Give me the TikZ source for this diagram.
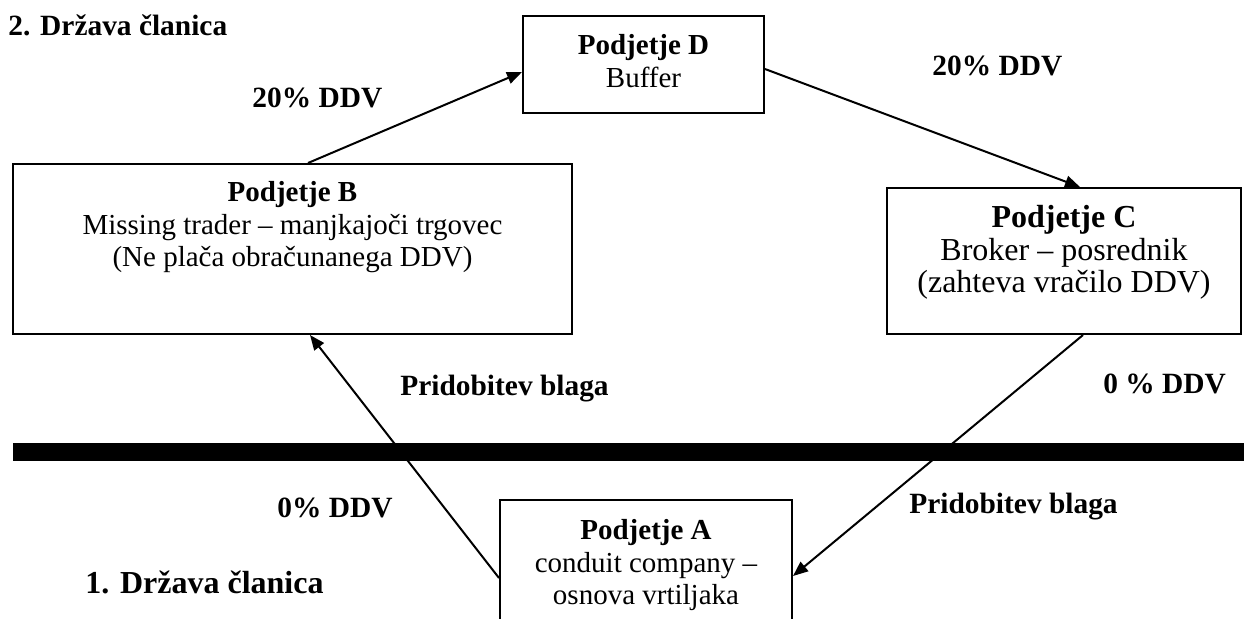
\documentclass[tikz,border=0pt]{standalone}
\usepackage{fontspec}
\setmainfont{Liberation Serif}
\usetikzlibrary{arrows.meta,positioning}

\begin{document}
\begin{tikzpicture}[x=0.5pt,y=-0.5pt,
    box/.style={draw,line width=1pt,inner sep=0pt},
    txt/.style={align=center,inner sep=0pt,font=\fontsize{14.5pt}{16.3pt}\selectfont},
    lbl/.style={inner sep=0pt,anchor=base west,font=\fontsize{14.7pt}{16pt}\selectfont\bfseries},
    arr/.style={line width=1pt,-{Triangle[length=7.5pt,width=6pt]}}]
  \clip (0,0) rectangle (1244,618);
  % companies
  \node[box,minimum width=120.5pt,minimum height=48.5pt] (d) at (643.5,64.5) {};
  \node[box,minimum width=279.5pt,minimum height=85pt] (b) at (292.5,249) {};
  \node[box,minimum width=177pt,minimum height=73pt] (c) at (1064,261) {};
  \node[box,minimum width=146pt,minimum height=70pt] (a) at (646,570) {};
  \node[txt,below=9.6pt of d.north] (dtxt) {\textbf{Podjetje D}\\Buffer};
  \node[txt,below=9.1pt of b.north] (btxt) {\textbf{Podjetje B}\\Missing trader – manjkajoči trgovec\\(Ne plača obračunanega DDV)};
  \node[txt,below=9.1pt of c.north,font=\fontsize{16pt}{16.2pt}\selectfont] (ctxt) {\textbf{Podjetje C}\\Broker – posrednik\\(zahteva vračilo DDV)};
  \node[txt,below=10.1pt of a.north] (atxt) {\textbf{Podjetje A}\\conduit company –\\osnova vrtiljaka};
  % border between the two states
  \fill (13,443) rectangle (1244,461);
  % labels
  \node[lbl] (clan2) at (8,35) {2. Država članica};
  \node[lbl,font=\fontsize{16pt}{17pt}\selectfont\bfseries] (clan1) at (85,593) {1. Država članica};
  \node[lbl] (ddvbd) at (252,107) {20\% DDV};
  \node[lbl] (ddvdc) at (932,75) {20\% DDV};
  \node[lbl] (blagab) at (400,395) {Pridobitev blaga};
  \node[lbl] (ddvca) at (1103,393) {0 \% DDV};
  \node[lbl] (ddvab) at (277,517) {0\% DDV};
  \node[lbl] (blagaa) at (909,513) {Pridobitev blaga};
  % flow of goods
  \draw[arr] ([xshift=7.75pt]b.north) -- ([yshift=-3.75pt]d.west);
  \draw[arr] ([yshift=-2.25pt]d.east) -- ([xshift=8pt]c.north);
  \draw[arr] ([xshift=9.5pt]c.south) -- ([yshift=-3pt]a.east);
  \draw[arr] ([yshift=-4pt]a.west) -- ([xshift=8.75pt]b.south);
\end{tikzpicture}
\end{document}
